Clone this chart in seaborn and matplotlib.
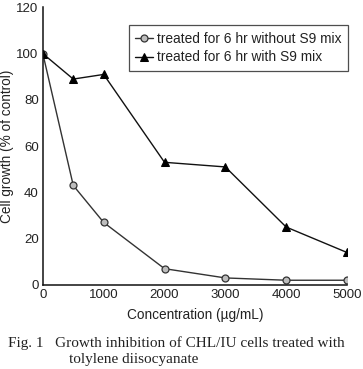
import pandas as pd
import matplotlib.pyplot as plt
import seaborn as sns

# Concentration (ug/mL) and cell growth (% of control)
conc = [0, 500, 1000, 2000, 3000, 4000, 5000]
without_s9 = [100, 43, 27, 7, 3, 2, 2]
with_s9 = [100, 89, 91, 53, 51, 25, 14]
labels = ['treated for 6 hr without S9 mix', 'treated for 6 hr with S9 mix']

sns.set_theme(style="white")
plt.rcParams['font.family'] = ['Liberation Sans', 'DejaVu Sans']

df = pd.DataFrame({'conc': conc, 'without': without_s9, 'with': with_s9})

fig = plt.figure(figsize=(3.63, 3.69), dpi=100)
ax = fig.add_axes([0.118, 0.228, 0.838, 0.752])

sns.lineplot(data=df, x='conc', y='without', ax=ax, color='#333333', lw=1,
             marker='o', markersize=5, markerfacecolor='#bdbdbd',
             markeredgecolor='#333333', markeredgewidth=0.9, label=labels[0])
sns.lineplot(data=df, x='conc', y='with', ax=ax, color='#111111', lw=1,
             marker='^', markersize=5.5, markerfacecolor='black',
             markeredgecolor='black', label=labels[1])

ax.set_xlim(0, 5000)
ax.set_ylim(0, 120)
ax.set_xticks(range(0, 5001, 1000))
ax.set_yticks(range(0, 121, 20))
ax.tick_params(direction='in', length=3, width=0.8, colors='#222222',
               labelsize=9.5, pad=3)
for s in ['top', 'right']:
    ax.spines[s].set_visible(False)
for s in ['left', 'bottom']:
    ax.spines[s].set_color('#111111')
    ax.spines[s].set_linewidth(1.1)
ax.set_xlabel('Concentration (\u00b5g/mL)', fontsize=9.8, color='#222222', labelpad=5)
ax.set_ylabel('Cell growth (% of control)', fontsize=9.8, color='#222222', labelpad=2)

leg = ax.legend(loc='upper left', bbox_to_anchor=(0.283, 0.935), fontsize=9.9,
                frameon=True, fancybox=False, edgecolor='#222222',
                handlelength=1.3, handletextpad=0.3, borderpad=0.45,
                labelspacing=0.35, borderaxespad=0)
leg.get_frame().set_linewidth(0.9)
for t in leg.get_texts():
    t.set_color('#222222')

fig.text(0.022, 0.06, 'Fig. 1   Growth inhibition of CHL/IU cells treated with',
         fontsize=11, family='Liberation Serif', color='#222222')
fig.text(0.19, 0.016, 'tolylene diisocyanate',
         fontsize=11, family='Liberation Serif', color='#222222')

fig.savefig('out.png', dpi=100)
